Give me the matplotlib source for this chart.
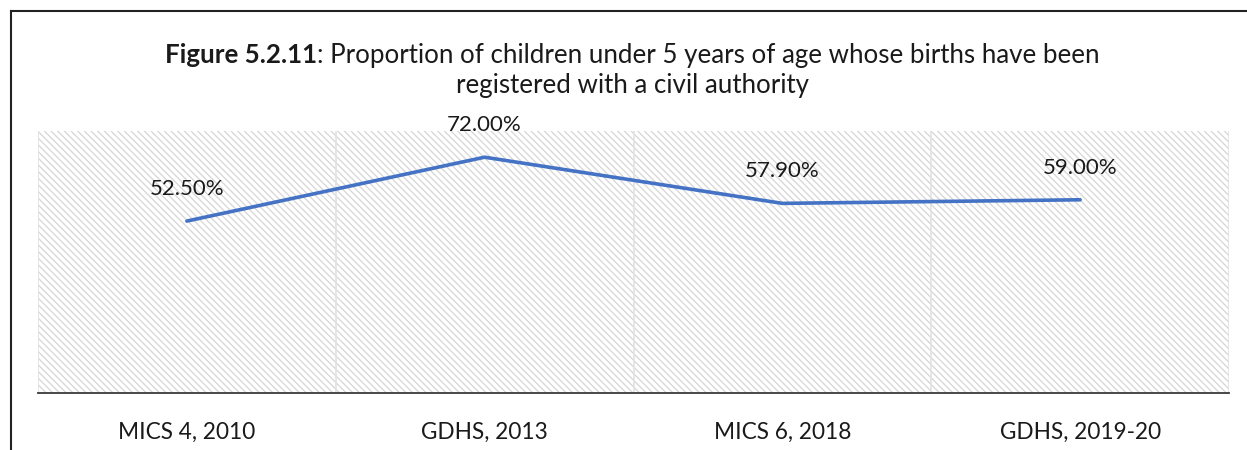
import matplotlib
matplotlib.use("Agg")
import matplotlib.pyplot as plt
from matplotlib.patches import Rectangle
from matplotlib.lines import Line2D

# --- data ---
surveys = ["MICS 4, 2010", "GDHS, 2013", "MICS 6, 2018", "GDHS, 2019-20"]
registered_pct = [52.5, 72.0, 57.9, 59.0]

FONT = "Lato"
LINE_COLOR = "#4472C4"
TEXT_COLOR = "#1a1a1a"

plt.rcParams["font.family"] = [FONT, "DejaVu Sans"]
plt.rcParams["hatch.linewidth"] = 0.9

fig = plt.figure(figsize=(12.47, 4.5), dpi=100)
ax = fig.add_axes([38 / 1247, 57 / 450, 1191 / 1247, 262 / 450])

# hatched plot area
ax.patch.set_visible(False)
ax.add_patch(Rectangle((0, 0), 1, 1, transform=ax.transAxes, facecolor="white",
                       edgecolor="#d6d6d6", hatch="\\" * 5, linewidth=0, zorder=0))

x = list(range(len(surveys)))
ax.plot(x, registered_pct, color=LINE_COLOR, linewidth=2.6, solid_capstyle="round",
        zorder=3)
for xi, v in zip(x, registered_pct):
    ax.annotate(f"{v:.2f}%", (xi, v), xytext=(0, 23), textcoords="offset points",
                ha="center", va="center", fontsize=16, color=TEXT_COLOR)

ax.set_xlim(-0.5, len(surveys) - 0.5)
ax.set_ylim(0, 80)
ax.set_yticks([])
ax.set_xticks(x)
ax.set_xticklabels(surveys, fontsize=16.3, color=TEXT_COLOR)
ax.tick_params(axis="x", length=0, pad=21)

# category separators
for b in [i - 0.5 for i in range(len(surveys) + 1)]:
    ax.axvline(b, color="#e2e2e2", linewidth=1.2, zorder=1)

for s in ["top", "left", "right"]:
    ax.spines[s].set_visible(False)
ax.spines["bottom"].set_color("#3a3a3a")
ax.spines["bottom"].set_linewidth(1.3)
ax.spines["bottom"].set_zorder(4)

# title: bold prefix + regular text, centred as one line
fig.canvas.draw()
r = fig.canvas.get_renderer()
cx, y1, y2 = 632 / 1247, 1 - 55 / 450, 1 - 85 / 450
t_bold = fig.text(0, y1, "Figure 5.2.11", fontsize=18.6, fontweight="bold",
                  va="center", ha="left", color=TEXT_COLOR)
t_rest = fig.text(0, y1, ": Proportion of children under 5 years of age whose births have been",
                  fontsize=18.6, va="center", ha="left", color=TEXT_COLOR)
wb = t_bold.get_window_extent(r).width / fig.bbox.width
wr = t_rest.get_window_extent(r).width / fig.bbox.width
x0 = cx - (wb + wr) / 2
t_bold.set_x(x0)
t_rest.set_x(x0 + wb)
fig.text(cx, y2, "registered with a civil authority", fontsize=18.6, va="center",
         ha="center", color=TEXT_COLOR)

# frame of the surrounding text box
fig.add_artist(Line2D([10.7 / 1247, 1], [1 - 10.7 / 450] * 2, transform=fig.transFigure,
                      color="#222222", linewidth=1.5))
fig.add_artist(Line2D([10.7 / 1247] * 2, [0, 1 - 10.7 / 450], transform=fig.transFigure,
                      color="#222222", linewidth=1.5))

fig.savefig("out.png", dpi=100)
